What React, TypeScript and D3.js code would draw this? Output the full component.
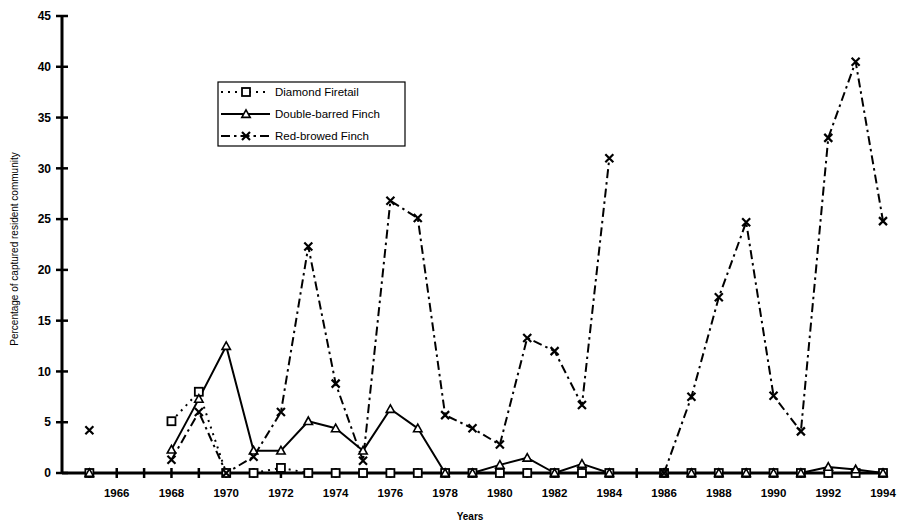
import React from "react";
import * as d3 from "d3";

const years: number[] = d3.range(1965, 1995);
// null = no data for that year
const diamondFiretail: (number | null)[] = [
  0, null, null, 5.1, 8.0, 0, 0, 0.5, 0, 0, 0, 0, 0, 0, 0, 0, 0, 0, 0, 0, null, 0, 0, 0, 0, 0, 0, 0, 0, 0,
];
const doubleBarred: (number | null)[] = [
  0, null, null, 2.3, 7.3, 12.5, 2.2, 2.2, 5.1, 4.4, 2.2, 6.3, 4.4, 0, 0, 0.8, 1.5, 0, 0.9, 0, null, 0, 0, 0, 0, 0, 0, 0.6, 0.35, 0,
];
const redBrowed: (number | null)[] = [
  4.2, null, null, 1.3, 6.0, 0, 1.6, 6.0, 22.3, 8.8, 1.2, 26.8, 25.1, 5.7, 4.4, 2.8, 13.3, 12.0, 6.7, 31.0, null, 0, 7.5, 17.3, 24.7, 7.6, 4.1, 33.0, 40.5, 24.8,
];
const yTicks: number[] = [0, 5, 10, 15, 20, 25, 30, 35, 40, 45];
const xLabelYears: number[] = d3.range(1966, 1995, 2);
const seriesNames: string[] = ["Diamond Firetail", "Double-barred Finch", "Red-browed Finch"];

const W = 897;
const H = 525;
const x = d3.scaleLinear().domain([1964, 1994]).range([62, 883]);
const y = d3.scaleLinear().domain([0, 45]).range([473, 16]);

type Pt = { yr: number; v: number | null };
const toPts = (arr: (number | null)[]): Pt[] => years.map((yr, i) => ({ yr, v: arr[i] }));

const lineGen = d3
  .line<Pt>()
  .defined((d) => d.v !== null)
  .x((d) => x(d.yr))
  .y((d) => y(d.v as number));

const font = "'Liberation Sans', Arial, sans-serif";

function Square({ cx, cy }: { cx: number; cy: number }) {
  return <rect x={cx - 4} y={cy - 4} width={8} height={8} fill="#fff" stroke="#000" strokeWidth={1.8} />;
}
function Tri({ cx, cy }: { cx: number; cy: number }) {
  const s = 4.2;
  return (
    <path
      d={`M${cx},${cy - s} L${cx + s},${cy + s * 0.8} L${cx - s},${cy + s * 0.8} Z`}
      fill="#fff"
      stroke="#000"
      strokeWidth={1.6}
    />
  );
}
function Cross({ cx, cy }: { cx: number; cy: number }) {
  const s = 4;
  return (
    <path
      d={`M${cx - s},${cy - s} L${cx + s},${cy + s} M${cx + s},${cy - s} L${cx - s},${cy + s}`}
      stroke="#000"
      strokeWidth={2.2}
    />
  );
}

const styles = [
  { data: diamondFiretail, dash: "2,5", width: 2, Marker: Square },
  { data: doubleBarred, dash: undefined as string | undefined, width: 2, Marker: Tri },
  { data: redBrowed, dash: "9,4,2.5,4", width: 2, Marker: Cross },
];

export default function App() {
  const x0 = x(1964);
  const y0 = y(0);
  return (
    <svg
      width={W}
      height={H}
      style={{ position: "absolute", left: 0, top: 0, background: "#fff" }}
      fontFamily={font}
    >
      <rect width={W} height={H} fill="#fff" />
      {/* series lines */}
      {styles.map((s, i) => (
        <path
          key={"l" + i}
          d={lineGen(toPts(s.data)) || ""}
          fill="none"
          stroke="#000"
          strokeWidth={s.width}
          strokeDasharray={s.dash}
          strokeLinejoin="round"
        />
      ))}
      {/* axes */}
      <line x1={x0} x2={x0} y1={y(45)} y2={y0} stroke="#000" strokeWidth={3} />
      <line x1={x0} x2={x(1994)} y1={y0} y2={y0} stroke="#000" strokeWidth={3} />
      {yTicks.map((t) => (
        <g key={"yt" + t}>
          <line x1={x0 - 6} x2={x0 + 6} y1={y(t)} y2={y(t)} stroke="#000" strokeWidth={2.5} />
          <text x={x0 - 11} y={y(t)} dy="0.35em" textAnchor="end" fontSize={12} fontWeight="bold">
            {t}
          </text>
        </g>
      ))}
      {years.map((yr) => (
        <line key={"xt" + yr} x1={x(yr)} x2={x(yr)} y1={y0 - 5} y2={y0 + 5} stroke="#000" strokeWidth={2.5} />
      ))}
      {xLabelYears.map((yr) => (
        <text key={"xl" + yr} x={x(yr)} y={497} textAnchor="middle" fontSize={11.5} fontWeight="bold">
          {yr}
        </text>
      ))}
      {/* markers */}
      {styles.map((s, i) =>
        toPts(s.data)
          .filter((d) => d.v !== null)
          .map((d) => <s.Marker key={"m" + i + d.yr} cx={x(d.yr)} cy={y(d.v as number)} />)
      )}
      {/* axis titles */}
      <text x={470} y={520} textAnchor="middle" fontSize={10} fontWeight="bold">
        Years
      </text>
      <text
        transform={`translate(14,249) rotate(-90)`}
        textAnchor="middle"
        fontSize={10}
        dy="0.35em"
      >
        Percentage of captured resident community
      </text>
      {/* legend */}
      <rect x={218} y={82} width={187} height={64} fill="#fff" stroke="#000" strokeWidth={1.2} />
      {styles.map((s, i) => {
        const ly = 92 + i * 22;
        return (
          <g key={"lg" + i}>
            <line x1={221} x2={270} y1={ly} y2={ly} stroke="#000" strokeWidth={s.width} strokeDasharray={s.dash} />
            <s.Marker cx={246} cy={ly} />
            <text x={275} y={ly} dy="0.35em" fontSize={11.5}>
              {seriesNames[i]}
            </text>
          </g>
        );
      })}
    </svg>
  );
}
